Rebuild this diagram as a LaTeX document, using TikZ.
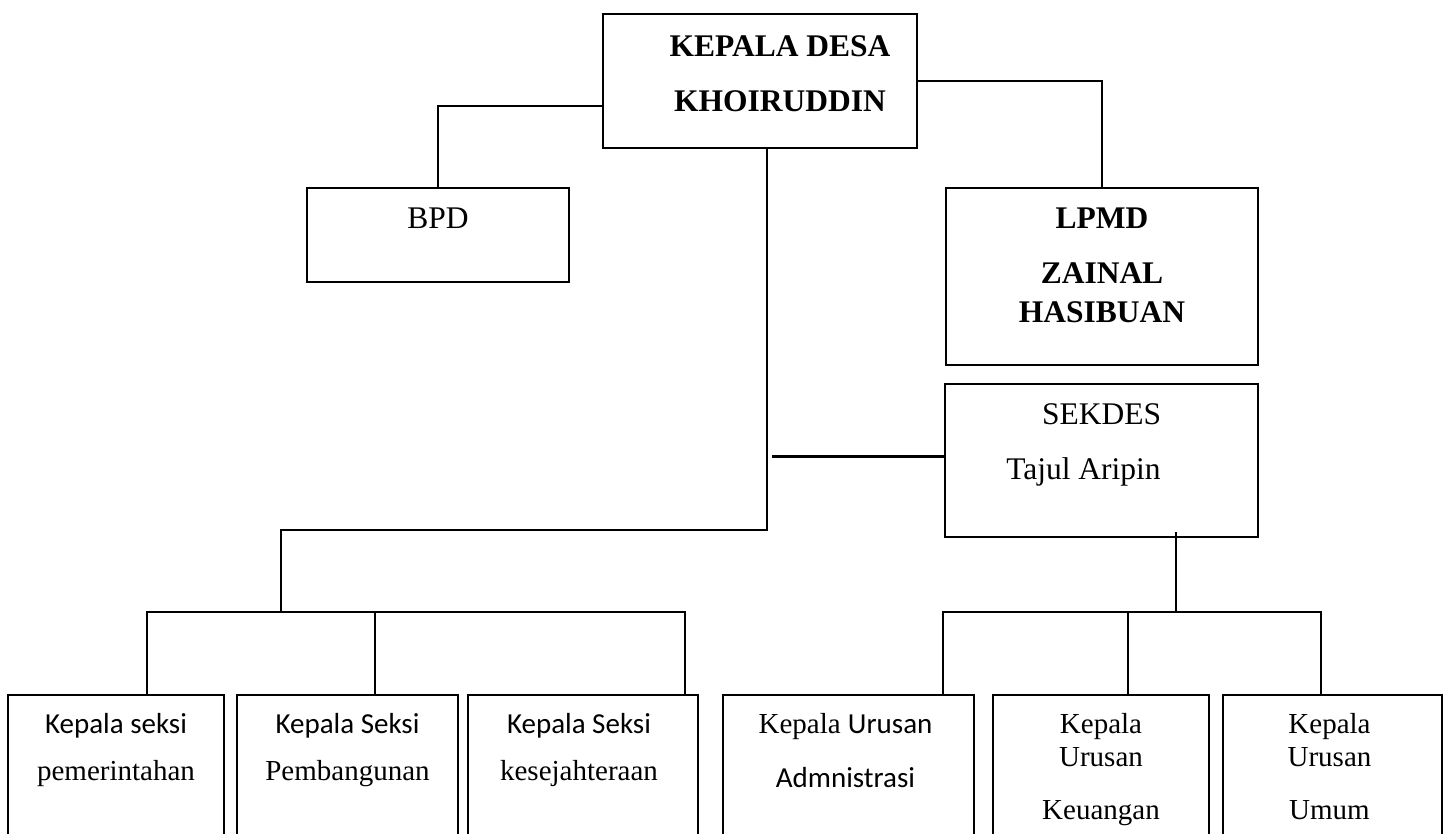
\documentclass[tikz,border=0pt]{standalone}
\usepackage{fontspec}
\setmainfont{Liberation Serif}
\newfontfamily\calibri{Carlito}

\begin{document}
\begin{tikzpicture}[x=1pt, y=-1pt, every node/.style={inner sep=0pt}]
  \tikzset{box/.style={draw, line width=2pt, outer sep=0pt, anchor=north west},
           headtxt/.style={anchor=north, align=center, font=\fontsize{31.5}{38}\selectfont\bfseries},
           txt/.style={anchor=north, align=center, font=\fontsize{31.5}{38}\selectfont},
           smalltxt/.style={anchor=north, align=center, font=\fontsize{29}{35}\selectfont},
           link/.style={line width=1.3pt},
           thick link/.style={line width=3pt}}
  \useasboundingbox (0,0) rectangle (1450,833);
  \clip (0,0) rectangle (1450,833);

  % boxes
  \node[box, minimum width=314pt, minimum height=134pt] (kd) at (603,14) {};
  \node[box, minimum width=262pt, minimum height=94pt] (bpd) at (307,188) {};
  \node[box, minimum width=312pt, minimum height=177pt] (lpmd) at (946,188) {};
  \node[box, minimum width=313pt, minimum height=153pt] (sekdes) at (945,384) {};
  \node[box, minimum width=216pt, minimum height=200pt] (kasi1) at (8,695) {};
  \node[box, minimum width=221pt, minimum height=200pt] (kasi2) at (237,695) {};
  \node[box, minimum width=230pt, minimum height=200pt] (kasi3) at (468,695) {};
  \node[box, minimum width=251pt, minimum height=200pt] (kaur1) at (723,695) {};
  \node[box, minimum width=216pt, minimum height=200pt] (kaur2) at (993,695) {};
  \node[box, minimum width=219pt, minimum height=200pt] (kaur3) at (1223,695) {};

  % texts
  \node[headtxt] (kd-t) at ([xshift=20pt, yshift=-21pt]kd.north) {KEPALA DESA\\[17pt]KHOIRUDDIN};
  \node[txt] (bpd-t) at ([yshift=-20pt]bpd.north) {BPD};
  \node[headtxt] (lpmd-t) at ([yshift=-20pt]lpmd.north) {LPMD\\[17pt]ZAINAL\\[1pt]HASIBUAN};
  \node[txt] (sekdes-t) at ([yshift=-19pt]sekdes.north) {SEKDES\\[17pt]Tajul Aripin\hspace*{36pt}};
  \node[smalltxt] (kasi1-t) at ([yshift=-18pt]kasi1.north) {{\calibri Kepala seksi}\\[12pt]pemerintahan};
  \node[smalltxt] (kasi2-t) at ([yshift=-18pt]kasi2.north) {{\calibri Kepala Seksi}\\[12pt]Pembangunan};
  \node[smalltxt] (kasi3-t) at ([xshift=-4pt, yshift=-18pt]kasi3.north) {{\calibri Kepala Seksi}\\[12pt]kesejahteraan};
  \node[smalltxt] (kaur1-t) at ([xshift=-3pt, yshift=-18pt]kaur1.north) {Kepala {\calibri Urusan}\\[19pt]{\calibri Admnistrasi}};
  \node[smalltxt] (kaur2-t) at ([yshift=-18pt]kaur2.north) {Kepala\\[-2pt]Urusan\\[18pt]Keuangan};
  \node[smalltxt] (kaur3-t) at ([xshift=-3pt, yshift=-18pt]kaur3.north) {Kepala\\[-2pt]Urusan\\[18pt]Umum};

  % connectors
  \coordinate (kd-low) at (767,530);
  \coordinate (kasi-bus) at (281,612);
  \coordinate (kasi-l) at (147,612);
  \coordinate (kasi-m) at (375,612);
  \coordinate (kasi-r) at (685,612);
  \coordinate (sek-in) at (772,456);
  \coordinate (sek-drop) at (1176,532);
  \coordinate (kaur-bus) at (1176,612);
  \coordinate (kaur-l) at (943,612);
  \coordinate (kaur-m) at (1128,612);
  \coordinate (kaur-r) at (1321,612);

  \draw[link] ([yshift=-25pt]kd.west) -| (bpd.north);
  \draw[link] (kd.east) -| (lpmd.north);
  \draw[link] (kd.south -| kd-low) -- (kd-low) -| (kasi-bus);
  \draw[link] (kasi1.north -| kasi-l) -- (kasi-l) -- (kasi-r) -- (kasi3.north -| kasi-r);
  \draw[link] (kasi-m) -- (kasi2.north -| kasi-m);
  \draw[thick link] (sek-in) -- (sek-in -| sekdes.west);
  \draw[link] (sek-drop) -- (kaur-bus);
  \draw[link] (kaur1.north -| kaur-l) -- (kaur-l) -- (kaur-r) -- (kaur3.north -| kaur-r);
  \draw[link] (kaur-m) -- (kaur2.north -| kaur-m);
\end{tikzpicture}
\end{document}
